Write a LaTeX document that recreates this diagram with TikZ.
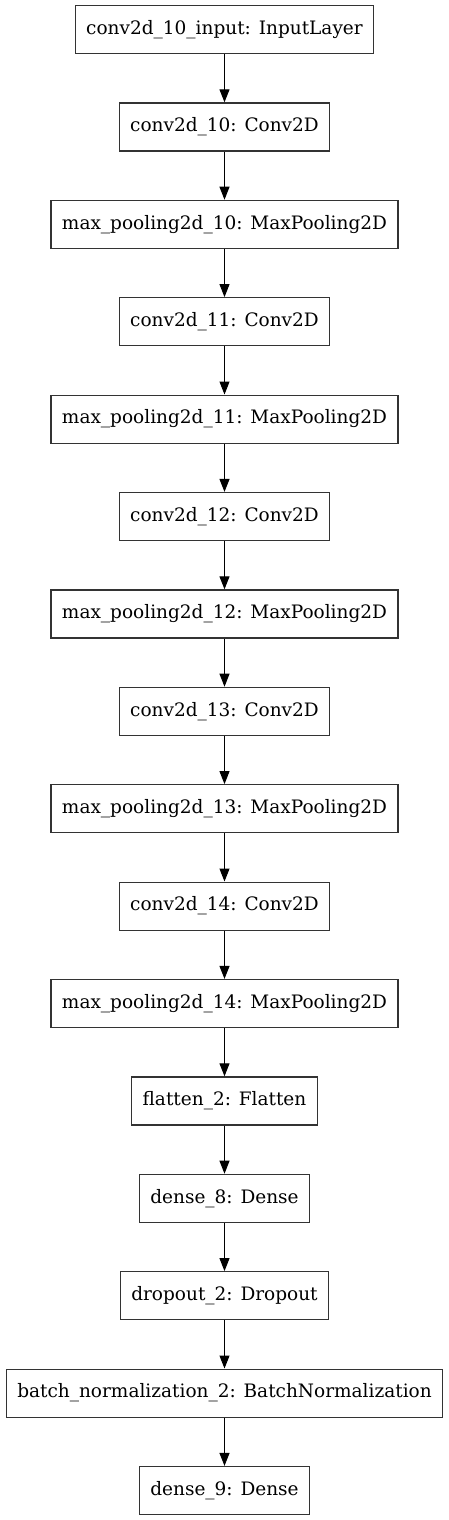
\documentclass[tikz,border=0pt]{standalone}
\usepackage{fontspec}
\setmainfont{DejaVu Serif}
\usetikzlibrary{positioning, arrows.meta}
\definecolor{boxline}{gray}{0.2}

\begin{document}
\begin{tikzpicture}[x=1pt, y=1pt, node distance=48.2pt,
    layer/.style={draw=boxline, line width=1.2pt, minimum height=48pt, inner xsep=11pt,
      font=\fontsize{18.5}{22}\selectfont},
    flow/.style={-{Triangle[length=13pt, width=10pt]}, line width=1pt}]
  \useasboundingbox (0, 0) rectangle (449, -1520);
  \node[layer] (input) at (224.5, -29.5) {conv2d\_10\_input: InputLayer};
  \node[layer, below=of input] (conva) {conv2d\_10: Conv2D};
  \node[layer, below=of conva] (poola) {max\_pooling2d\_10: MaxPooling2D};
  \node[layer, below=of poola] (convb) {conv2d\_11: Conv2D};
  \node[layer, below=of convb] (poolb) {max\_pooling2d\_11: MaxPooling2D};
  \node[layer, below=of poolb] (convc) {conv2d\_12: Conv2D};
  \node[layer, below=of convc] (poolc) {max\_pooling2d\_12: MaxPooling2D};
  \node[layer, below=of poolc] (convd) {conv2d\_13: Conv2D};
  \node[layer, below=of convd] (poold) {max\_pooling2d\_13: MaxPooling2D};
  \node[layer, below=of poold] (conve) {conv2d\_14: Conv2D};
  \node[layer, below=of conve] (poole) {max\_pooling2d\_14: MaxPooling2D};
  \node[layer, below=of poole] (flat) {flatten\_2: Flatten};
  \node[layer, below=of flat] (densea) {dense\_8: Dense};
  \node[layer, below=of densea] (drop) {dropout\_2: Dropout};
  \node[layer, below=of drop] (bnorm) {batch\_normalization\_2: BatchNormalization};
  \node[layer, below=of bnorm] (denseb) {dense\_9: Dense};
  \draw[flow] (input) -- (conva);
  \draw[flow] (conva) -- (poola);
  \draw[flow] (poola) -- (convb);
  \draw[flow] (convb) -- (poolb);
  \draw[flow] (poolb) -- (convc);
  \draw[flow] (convc) -- (poolc);
  \draw[flow] (poolc) -- (convd);
  \draw[flow] (convd) -- (poold);
  \draw[flow] (poold) -- (conve);
  \draw[flow] (conve) -- (poole);
  \draw[flow] (poole) -- (flat);
  \draw[flow] (flat) -- (densea);
  \draw[flow] (densea) -- (drop);
  \draw[flow] (drop) -- (bnorm);
  \draw[flow] (bnorm) -- (denseb);
\end{tikzpicture}
\end{document}
